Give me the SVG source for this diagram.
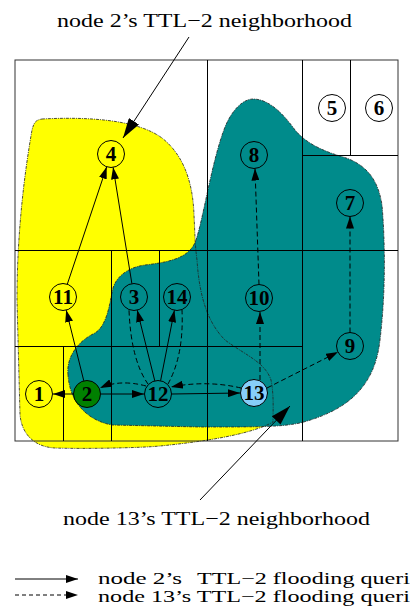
<svg xmlns="http://www.w3.org/2000/svg" width="411" height="613" viewBox="0 0 411 613">
<style>
.lbl{font-family:"Liberation Serif","Times New Roman",serif;font-size:19px;fill:#000}
.leg{font-family:"Liberation Serif","Times New Roman",serif;font-size:16px;fill:#000}
.num{font-family:"Liberation Serif","Times New Roman",serif;font-size:21px;font-weight:bold;fill:#000;text-anchor:middle}
.nd{fill:none;stroke:#000;stroke-width:1}
.grid{stroke:#000;stroke-width:1;fill:none}
.e{stroke:#000;stroke-width:1;fill:none}
.d{stroke:#000;stroke-width:1;fill:none;stroke-dasharray:5 3}
.blob{stroke:#222;stroke-width:0.8;stroke-dasharray:3 1 1 1}
</style>
<defs>
<marker id="ah" markerWidth="12" markerHeight="8" refX="12" refY="4" orient="auto" markerUnits="userSpaceOnUse"><path d="M0,0 L12,4 L0,8 Z" fill="#000"/></marker>
<marker id="big" markerWidth="20" markerHeight="12" refX="20" refY="6" orient="auto" markerUnits="userSpaceOnUse"><path d="M0,0 L20,6 L0,12 Z" fill="#000"/></marker>
</defs>
<rect width="411" height="613" fill="#fff"/>
<g id="regions">
<path id="yellow-fill" d="M42,119 C80,117 135,118 162,138 C185,156 193,185 194,215 C195,235 195,245 197,260 C199,290 205,320 225,340 C245,355 265,362 271,380 C274,395 273,410 273,422 C250,435 200,442 160,446 C140,448 80,449 55,448 C35,447 22,435 20,415 L17,300 C17,230 25,170 32,130 C34,122 36,120 42,119 Z" fill="#ffff00"/>
<path id="teal" class="blob" d="M68,375 C66,355 80,340 95,333 C108,325 110,300 113,288 C117,275 130,267 145,265 C170,262 190,258 196,240 C203,220 212,160 225,127 C232,110 243,99 253,99 C268,99 282,112 295,130 C305,142 320,150 340,156 C365,163 378,178 382,205 C385,240 386,290 380,340 C375,385 350,410 300,423 C280,427 260,427 200,427 L112,425 C90,421 70,405 68,375 Z" fill="#008b8b"/>
<path id="yellow-outline" class="blob" d="M42,119 C80,117 135,118 162,138 C185,156 193,185 194,215 C195,235 195,245 197,260 C199,290 205,320 225,340 C245,355 265,362 271,380 C274,395 273,410 273,422 C250,435 200,442 160,446 C140,448 80,449 55,448 C35,447 22,435 20,415 L17,300 C17,230 25,170 32,130 C34,122 36,120 42,119 Z" fill="none"/>
</g>
<g id="grid">
<rect x="15" y="60" width="383" height="381" fill="none" stroke="#333" stroke-width="1"/>
<path class="grid" d="M207.5,60 V441 M302.5,60 V441 M350.5,60 V155 M302,155.5 H398 M15,250.5 H398 M111.5,250 V441 M159.5,250 V346 M15,346.5 H302 M63.5,346 V441"/>
</g>
<g id="connectors">
<path class="e" d="M74,394 L53,394" marker-end="url(#ah)"/>
<path class="e" d="M101,394 L144,394" marker-end="url(#ah)"/>
<path class="e" d="M172,394 L240,393" marker-end="url(#ah)"/>
<path class="e" d="M83.8,380.9 L66.2,310.1" marker-end="url(#ah)"/>
<path class="e" d="M67.3,284.2 L106.7,166.8" marker-end="url(#ah)"/>
<path class="e" d="M131.9,283.7 L113.1,167.3" marker-end="url(#ah)"/>
<path class="e" d="M154.8,380.9 L137.2,310.1" marker-end="url(#ah)"/>
<path class="e" d="M160.6,380.7 L174.4,310.3" marker-end="url(#ah)"/>
<path class="d" d="M241,388 Q207,380 171,387" marker-end="url(#ah)"/>
<path class="d" d="M146,386 Q120,379 100,388" marker-end="url(#ah)"/>
<path class="d" d="M148,384 Q131,360 129,310"/>
<path class="d" d="M168,384 Q184,355 182,310"/>
<path class="d" d="M260,380 L260,312" marker-end="url(#ah)"/>
<path class="d" d="M267,388 L338,352" marker-end="url(#ah)"/>
<path class="d" d="M259,284.5 L255,168.5" marker-end="url(#ah)"/>
<path class="d" d="M350,332.5 L350,216.5" marker-end="url(#ah)"/>
<path class="e" d="M189,37 L123,138" marker-end="url(#big)"/>
<path class="e" d="M200,500 L290,406" marker-end="url(#big)"/>
</g>
<g id="n1"><circle class="nd" cx="39" cy="394" r="13.5"/><text class="num" x="39" y="401">1</text></g>
<g id="n2"><circle class="nd" cx="87" cy="394" r="13.5" style="fill:#008000"/><text class="num" x="87" y="401">2</text></g>
<g id="n12"><circle class="nd" cx="158" cy="394" r="13.5"/><text class="num" x="158" y="401">12</text></g>
<g id="n13"><circle class="nd" cx="254" cy="393" r="13.5" style="fill:#87cefa"/><text class="num" x="254" y="400">13</text></g>
<g id="n11"><circle class="nd" cx="63" cy="297" r="13.5"/><text class="num" x="63" y="304">11</text></g>
<g id="n3"><circle class="nd" cx="134" cy="297" r="13.5"/><text class="num" x="134" y="304">3</text></g>
<g id="n14"><circle class="nd" cx="177" cy="297" r="13.5"/><text class="num" x="177" y="304">14</text></g>
<g id="n10"><circle class="nd" cx="259" cy="298" r="13.5"/><text class="num" x="259" y="305">10</text></g>
<g id="n9"><circle class="nd" cx="350" cy="346" r="13.5"/><text class="num" x="350" y="353">9</text></g>
<g id="n7"><circle class="nd" cx="350" cy="203" r="13.5"/><text class="num" x="350" y="210">7</text></g>
<g id="n8"><circle class="nd" cx="254" cy="155" r="13.5"/><text class="num" x="254" y="162">8</text></g>
<g id="n4"><circle class="nd" cx="111" cy="154" r="13.5"/><text class="num" x="111" y="161">4</text></g>
<g id="n5"><circle class="nd" cx="332" cy="108" r="13.5"/><text class="num" x="332" y="115">5</text></g>
<g id="n6"><circle class="nd" cx="379" cy="108" r="13.5"/><text class="num" x="379" y="115">6</text></g>
<g id="labels">
<text class="lbl" x="57" y="27" textLength="295" lengthAdjust="spacingAndGlyphs">node 2’s TTL−2 neighborhood</text>
<text class="lbl" x="63" y="525" textLength="307" lengthAdjust="spacingAndGlyphs">node 13’s TTL−2 neighborhood</text>
</g>
<g id="legend">
<path class="e" d="M15,579 L78,579" marker-end="url(#ah)"/>
<path class="d" d="M15,595 L78,595" style="stroke-dasharray:4 3" marker-end="url(#ah)"/>
<text class="leg" y="584"><tspan x="98" textLength="84" lengthAdjust="spacingAndGlyphs">node 2’s</tspan><tspan x="197" textLength="213" lengthAdjust="spacingAndGlyphs">TTL−2 flooding queri</tspan></text>
<text class="leg" x="98" y="602" textLength="312" lengthAdjust="spacingAndGlyphs">node 13’s TTL−2 flooding queri</text>
</g>
</svg>
